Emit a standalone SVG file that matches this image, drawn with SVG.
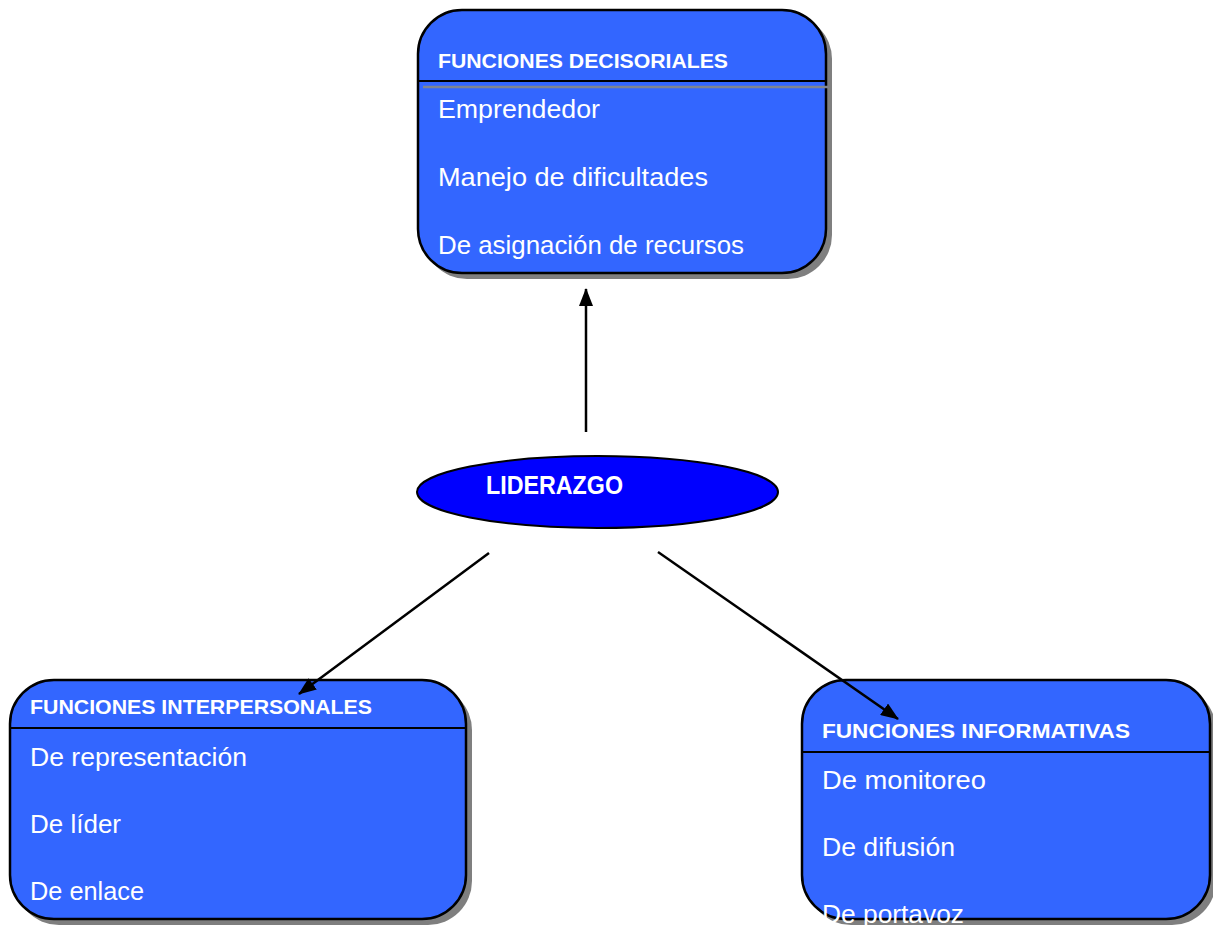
<svg xmlns="http://www.w3.org/2000/svg" width="1213" height="926" viewBox="0 0 1213 926">
<style>
.box{fill:#3366FF;stroke:#000;stroke-width:2.5}
.shadow{fill:#7f7f7f}
.hdr{stroke:#000;stroke-width:2}
.t{font-family:"Liberation Sans",Arial,sans-serif;fill:#fff;font-size:25px}
.b{font-family:"Liberation Sans",Arial,sans-serif;fill:#fff;font-size:21px;font-weight:bold}
.c{stroke:#000;stroke-width:2.5;fill:none;marker-end:url(#ah)}
</style>
<defs>
<marker id="ah" markerWidth="18" markerHeight="14" refX="17" refY="7" orient="auto" markerUnits="userSpaceOnUse">
<path d="M0,0 L18,7 L0,14 Z" fill="#000"/>
</marker>
</defs>
<rect width="1213" height="926" fill="#fff"/>
<g id="decisoriales">
<rect class="shadow" x="423" y="15" width="409" height="264" rx="44"/>
<rect class="box" x="418" y="10" width="408" height="263" rx="44"/>
<line class="hdr" x1="418" y1="81" x2="826" y2="81"/>
<line x1="423" y1="87" x2="828" y2="87" stroke="#7f8590" stroke-width="2.5"/>
<text class="b" x="438" y="68" textLength="290" lengthAdjust="spacingAndGlyphs">FUNCIONES DECISORIALES</text>
<text class="t" x="438" y="118" textLength="162" lengthAdjust="spacingAndGlyphs">Emprendedor</text>
<text class="t" x="438" y="186" textLength="270" lengthAdjust="spacingAndGlyphs">Manejo de dificultades</text>
<text class="t" x="438" y="254" textLength="306" lengthAdjust="spacingAndGlyphs">De asignación de recursos</text>
</g>
<g id="liderazgo">
<ellipse cx="597.5" cy="492" rx="180.5" ry="36" fill="#0000FF" stroke="#000" stroke-width="2"/>
<text class="b" x="486" y="494" textLength="137" lengthAdjust="spacingAndGlyphs" style="font-size:25px">LIDERAZGO</text>
</g>
<g id="interpersonales">
<rect class="shadow" x="15" y="686" width="457" height="239" rx="44"/>
<rect class="box" x="10" y="680" width="456" height="239" rx="44"/>
<line class="hdr" x1="10" y1="728" x2="466" y2="728"/>
<text class="b" x="30" y="714" textLength="342" lengthAdjust="spacingAndGlyphs">FUNCIONES INTERPERSONALES</text>
<text class="t" x="30" y="766" textLength="217" lengthAdjust="spacingAndGlyphs">De representación</text>
<text class="t" x="30" y="833" textLength="91" lengthAdjust="spacingAndGlyphs">De líder</text>
<text class="t" x="30" y="900" textLength="114" lengthAdjust="spacingAndGlyphs">De enlace</text>
</g>
<g id="informativas">
<rect class="shadow" x="807" y="686" width="409" height="239" rx="44"/>
<rect class="box" x="802" y="680" width="408" height="239" rx="44"/>
<line class="hdr" x1="802" y1="752" x2="1210" y2="752"/>
<text class="b" x="822" y="738" textLength="308" lengthAdjust="spacingAndGlyphs">FUNCIONES INFORMATIVAS</text>
<text class="t" x="822" y="789" textLength="164" lengthAdjust="spacingAndGlyphs">De monitoreo</text>
<text class="t" x="822" y="856" textLength="133" lengthAdjust="spacingAndGlyphs">De difusión</text>
<text class="t" x="822" y="923" textLength="142" lengthAdjust="spacingAndGlyphs">De portavoz</text>
</g>
<g id="connectors">
<line class="c" x1="586" y1="432" x2="586" y2="289"/>
<line class="c" x1="489" y1="553" x2="299" y2="694"/>
<line class="c" x1="658" y1="552" x2="898" y2="719"/>
</g>
</svg>
